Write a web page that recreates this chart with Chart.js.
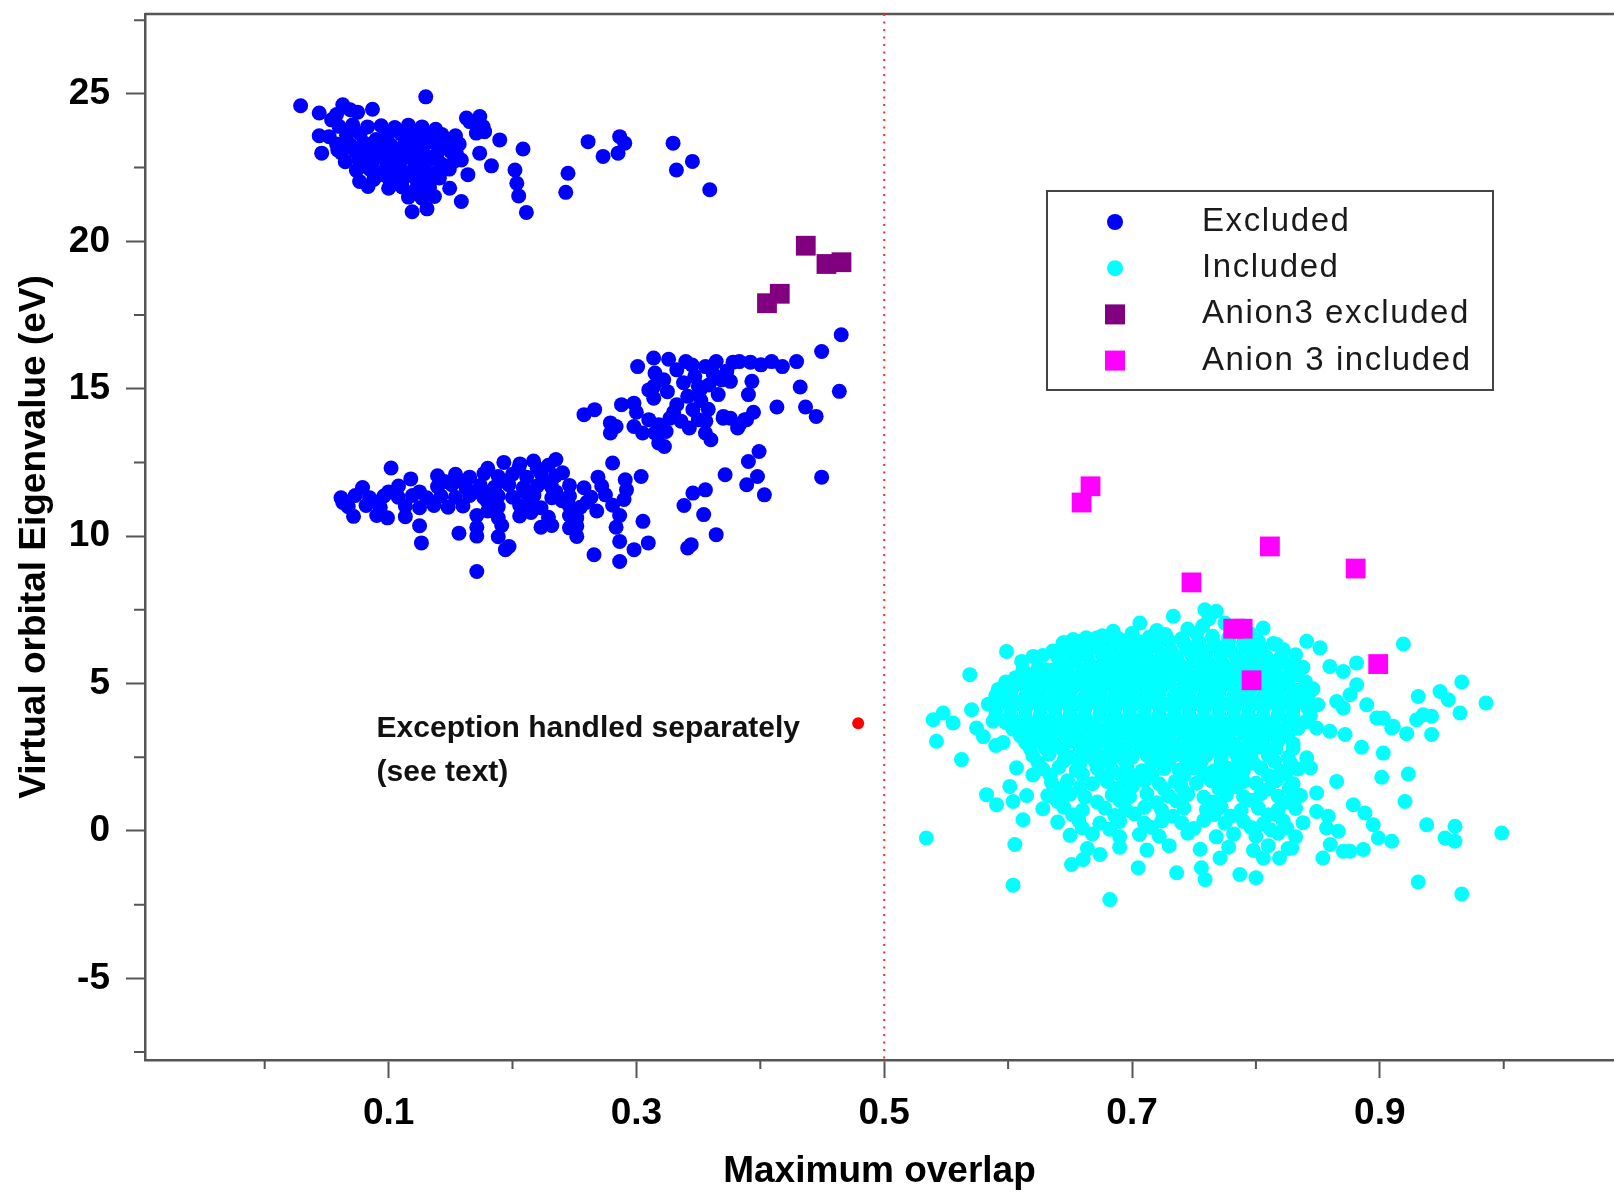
<!DOCTYPE html>
<html>
<head>
<meta charset="utf-8">
<style>
  html, body { margin: 0; padding: 0; background: #fff; overflow: hidden; }
  canvas { display: block; }
</style>
</head>
<body>
<canvas id="myChart" width="1614" height="1195"></canvas>
<script src="https://cdn.jsdelivr.net/npm/chart.js@4.4.1/dist/chart.umd.min.js"></script>
<script>
// values: [maximum overlap, eigenvalue in eV]
var excluded = [
  [0.029,24.6],[0.130,24.9],[0.087,24.48],[0.044,24.35],[0.054,24.12],[0.063,24.63],[0.069,24.46],[0.058,24.3],[0.075,24.38],
  [0.044,23.58],[0.052,23.55],[0.046,22.99],[0.059,23.1],
  [0.060,23.9],[0.071,23.95],[0.083,23.88],[0.094,23.92],[0.105,23.86],[0.116,23.94],[0.127,23.88],[0.138,23.8],
  [0.1654,24.06],[0.1762,23.89],[0.1708,23.67],[0.1775,23.72],[0.1628,24.18],[0.1736,24.23],
  [0.066,23.6],[0.077,23.65],[0.099,23.58],[0.110,23.64],[0.121,23.6],[0.132,23.55],[0.143,23.62],[0.154,23.58],
  [0.058,23.3],[0.069,23.28],[0.080,23.34],[0.091,23.3],[0.102,23.26],[0.113,23.32],[0.124,23.3],[0.135,23.36],[0.146,23.28],[0.157,23.3],
  [0.062,23.0],[0.073,23.05],[0.084,22.98],[0.095,23.02],[0.106,22.96],[0.117,23.04],[0.128,23.0],[0.139,22.95],[0.150,23.05],
  [0.065,22.7],[0.076,22.74],[0.087,22.68],[0.098,22.72],[0.109,22.66],[0.120,22.74],[0.131,22.7],[0.142,22.64],[0.153,22.72],
  [0.074,22.4],[0.085,22.44],[0.096,22.38],[0.107,22.42],[0.118,22.36],[0.129,22.44],[0.140,22.38],[0.149,22.45],
  [0.088,22.1],[0.100,22.14],[0.111,22.06],[0.122,22.12],[0.133,22.08],[0.141,22.15],
  [0.100,21.8],[0.111,21.84],[0.122,21.76],[0.133,21.82],
  [0.116,21.5],[0.127,21.46],[0.137,21.52],[0.119,21.0],[0.131,21.1],
  [0.090,23.45],[0.115,23.45],[0.137,23.45],[0.080,23.15],[0.100,23.15],[0.120,23.15],[0.142,23.15],[0.090,22.85],
  [0.112,22.85],[0.135,22.85],[0.080,22.55],[0.102,22.55],[0.125,22.55],[0.145,22.55],[0.092,22.25],[0.115,22.25],
  [0.135,22.25],[0.105,21.95],[0.128,21.95],
  [0.1587,21.35],[0.1493,21.80],[0.164,22.26],[0.183,22.56],[0.1735,22.99],[0.1897,23.44],[0.2085,23.13],[0.202,22.42],
  [0.2035,21.97],[0.205,21.54],[0.2112,20.98],[0.2448,22.31],[0.243,21.66],[0.261,23.38],[0.2865,23.55],[0.2906,23.33],
  [0.2852,22.99],[0.2731,22.88],[0.3296,23.33],[0.3323,22.42],[0.3452,22.71],[0.3592,21.75],[0.0766,22.03],[0.0834,21.86],
  [0.149,23.44],[0.1547,22.99],[0.1587,22.76],
  [0.193,12.5],[0.206,12.45],[0.217,12.55],[0.229,12.4],[0.235,12.6],
  [0.1395,12.05],[0.154,12.1],[0.1654,12.0],[0.177,12.12],[0.1885,12.02],[0.20,12.1],[0.2115,12.0],[0.223,12.12],[0.2346,12.04],[0.2404,12.15],[0.269,12.0],
  [0.079,11.65],[0.108,11.7],[0.1395,11.68],[0.151,11.74],[0.1625,11.64],[0.174,11.72],[0.1856,11.66],[0.197,11.74],[0.2087,11.64],[0.22,11.7],[0.2317,11.66],[0.246,11.72],[0.2577,11.64],[0.272,11.7],
  [0.0616,11.3],[0.0731,11.38],[0.0847,11.3],[0.0962,11.36],[0.1078,11.32],[0.1193,11.38],[0.1308,11.3],[0.1423,11.36],[0.1539,11.32],[0.1654,11.38],[0.177,11.3],[0.1885,11.36],[0.20,11.32],[0.2173,11.38],[0.2317,11.3],[0.246,11.36],[0.2634,11.32],[0.275,11.4],
  [0.0674,11.0],[0.0818,11.04],[0.0933,10.98],[0.1135,11.02],[0.125,10.96],[0.1366,11.04],[0.148,10.98],[0.16,11.02],[0.1885,11.0],[0.2058,11.04],[0.223,10.96],[0.246,11.02],[0.2548,10.98],[0.2808,11.05],
  [0.0717,10.67],[0.0904,10.7],[0.0991,10.62],[0.1135,10.66],[0.1712,10.7],[0.1885,10.62],[0.2058,10.68],[0.229,10.64],[0.246,10.7],[0.2519,10.62],[0.2865,10.7],
  [0.125,10.35],[0.1712,10.3],[0.1913,10.36],[0.223,10.3],[0.2317,10.36],[0.246,10.28],[0.2519,10.34],[0.2836,10.3],[0.3053,10.5],
  [0.1568,10.1],[0.1712,10.0],[0.1885,9.98],[0.2519,9.99],
  [0.145,11.85],[0.16,11.85],[0.17,11.5],[0.182,11.5],[0.195,11.85],[0.21,11.5],[0.225,11.85],[0.235,11.5],[0.24,11.2],
  [0.215,11.2],[0.18,11.15],[0.125,11.5],[0.10,11.5],[0.09,11.15],[0.205,12.3],[0.22,12.3],[0.18,12.3],[0.26,11.15],
  [0.268,10.85],[0.215,10.8],[0.18,10.85],
  [0.1265,9.77],[0.1943,9.54],[0.1972,9.65],[0.1712,8.80],[0.2658,9.37],[0.2865,9.82],[0.2865,9.14],[0.3096,9.77],[0.2981,9.54],
  [0.2808,12.48],[0.3038,12.02],[0.291,11.91],[0.292,11.57],[0.290,11.24],[0.063,11.14],[0.102,12.31],[0.1179,11.94],
  [0.3384,11.04],[0.3543,10.73],[0.3644,10.05],[0.3414,9.60],[0.3442,9.71],[0.3557,11.57],[0.3456,11.46],[0.3716,12.08],
  [0.399,12.87],[0.3904,12.53],[0.3977,12.02],[0.389,11.74],[0.4033,11.40],[0.4495,12.0],
  [0.4653,16.83],[0.4495,16.26],[0.4638,14.91],[0.4322,15.06],[0.4293,15.92],[0.4178,15.75],[0.4091,15.92],[0.4005,15.81],
  [0.3831,15.92],[0.4134,14.38],[0.4365,14.38],[0.4451,14.06],[0.3932,15.25],[0.3904,14.80],[0.370,14.00],[0.3875,13.95],[0.3817,13.67],
  [0.2577,14.12],[0.2663,14.29],[0.301,15.75],[0.3139,16.04],[0.315,15.53],[0.314,15.08],[0.31,14.96],[0.314,14.68],
  [0.288,14.46],[0.298,14.51],[0.279,13.84],[0.2836,13.72],[0.279,13.50],[0.298,13.72],[0.31,13.95],[0.318,13.78],
  [0.324,13.55],[0.315,13.50],[0.318,13.16],[0.3226,13.04],
  [0.3326,15.64],[0.3399,15.92],[0.3471,15.42],[0.3557,15.75],[0.3644,15.92],[0.35,15.08],[0.3414,14.74],[0.3326,14.46],
  [0.3456,14.29],[0.35,13.95],[0.3427,13.67],[0.3557,13.50],[0.3601,13.27],[0.3514,14.96],[0.3586,15.13],
  [0.3687,15.30],[0.3759,15.25],[0.3702,14.06],[0.3759,14.00],[0.3831,13.78],[0.3889,13.95],
  [0.325,14.9],[0.330,14.2],[0.338,15.2],[0.327,14.0],[0.336,13.9],[0.345,15.8],[0.352,14.6],[0.358,14.3],[0.362,15.5],
  [0.366,14.8],[0.300,14.2],[0.305,13.5],[0.322,15.3],[0.356,13.9],[0.326,16.0],[0.378,15.9],[0.392,15.9],[0.373,15.6],[0.3945,14.2]
];

var included = [
  [0.534,-0.24],[0.604,-1.84],[0.6054,-0.46],[0.6821,-2.33],[0.6512,-1.14],[0.6606,-0.97],[0.6741,-0.80],[0.705,-1.25],
  [0.736,-1.42],[0.756,-1.25],[0.759,-1.65],[0.612,0.38],[0.5826,1.23],[0.5907,0.89],[0.604,1.00],[0.6014,1.51],
  [0.6068,2.14],[0.5624,2.42],[0.5422,3.04],[0.5395,3.77],[0.5476,4.00],[0.5556,3.66],[0.5691,5.30],[0.5705,4.11],
  [0.5987,6.09],[0.6109,5.75],[0.6202,5.92],[0.631,5.47],[0.6014,4.62],[0.5745,3.49],[0.5879,3.72],[0.6444,6.38],
  [0.6525,6.49],[0.6714,6.54],[0.6848,6.77],[0.7063,7.05],[0.7333,7.28],[0.7588,7.50],[0.6795,5.70],
  [0.62,1.9],[0.615,1.2],[0.59,2.9],[0.58,3.2],[0.596,3.0],
  [0.762,7.2],[0.775,7.05],[0.79,6.95],[0.768,7.45],[0.72,6.8],[0.745,6.85],[0.757,6.95],[0.782,6.75],[0.795,6.7],
  [0.663,6.55],[0.676,6.62],[0.69,6.5],[0.70,6.7],[0.714,6.58],[0.727,6.66],[0.74,6.52],[0.752,6.7],[0.765,6.6],[0.778,6.55],[0.79,6.62],[0.80,6.45],
  [0.646,6.38],[0.658,6.42],[0.67,6.36],[0.682,6.44],[0.694,6.38],[0.706,6.42],[0.718,6.36],[0.73,6.44],[0.742,6.38],[0.754,6.42],[0.766,6.36],[0.778,6.44],[0.79,6.38],[0.802,6.42],[0.814,6.36],
  [0.636,6.1],[0.648,6.2],[0.66,6.12],[0.672,6.22],[0.684,6.1],[0.696,6.2],[0.708,6.15],[0.72,6.25],[0.732,6.1],[0.744,6.2],[0.756,6.15],[0.768,6.25],[0.78,6.1],[0.792,6.2],[0.804,6.12],[0.822,6.15],
  [0.628,5.95],[0.64,5.9],[0.652,5.98],[0.664,5.92],[0.676,5.98],[0.688,5.9],[0.70,5.96],[0.712,5.92],[0.724,5.98],[0.736,5.9],[0.748,5.96],[0.76,5.92],[0.772,5.98],[0.784,5.9],[0.796,5.96],[0.808,5.92],[0.82,5.9],[0.832,5.98],
  [0.642,5.7],[0.654,5.78],[0.666,5.65],[0.69,5.75],[0.702,5.68],[0.714,5.78],[0.726,5.7],[0.738,5.66],[0.75,5.76],[0.762,5.7],[0.774,5.64],[0.786,5.74],[0.798,5.7],[0.81,5.8],[0.826,5.66],[0.838,5.55],
  [0.612,5.48],[0.624,5.52],[0.636,5.46],[0.648,5.52],[0.66,5.46],[0.672,5.54],[0.684,5.46],[0.696,5.52],[0.708,5.46],[0.72,5.54],[0.732,5.48],[0.744,5.52],[0.756,5.46],[0.768,5.54],[0.78,5.48],[0.792,5.52],[0.804,5.46],[0.816,5.54],[0.828,5.48],
  [0.606,5.2],[0.618,5.3],[0.63,5.22],[0.642,5.3],[0.654,5.2],[0.666,5.28],[0.678,5.22],[0.69,5.3],[0.702,5.2],[0.714,5.28],[0.726,5.22],[0.738,5.3],[0.75,5.2],[0.762,5.28],[0.774,5.22],[0.786,5.3],[0.798,5.2],[0.81,5.28],[0.822,5.2],[0.834,5.3],
  [0.598,5.05],[0.61,5.0],[0.622,5.08],[0.634,5.02],[0.646,5.08],[0.658,5.0],[0.67,5.06],[0.682,5.02],[0.694,5.08],[0.706,5.0],[0.718,5.06],[0.73,5.02],[0.742,5.08],[0.754,5.0],[0.766,5.06],[0.778,5.02],[0.79,5.08],[0.802,5.0],[0.814,5.06],[0.826,5.02],[0.84,5.06],
  [0.592,4.8],[0.604,4.88],[0.616,4.76],[0.628,4.85],[0.64,4.78],[0.652,4.86],[0.664,4.8],[0.676,4.88],[0.688,4.76],[0.70,4.84],[0.712,4.8],[0.724,4.88],[0.736,4.76],[0.748,4.84],[0.76,4.8],[0.772,4.88],[0.784,4.76],[0.796,4.84],[0.808,4.8],[0.82,4.86],[0.832,4.78],[0.846,4.82],
  [0.59,4.58],[0.602,4.62],[0.614,4.56],[0.626,4.64],[0.638,4.58],[0.65,4.62],[0.662,4.56],[0.674,4.64],[0.686,4.58],[0.698,4.62],[0.71,4.56],[0.722,4.64],[0.734,4.58],[0.746,4.62],[0.758,4.56],[0.77,4.64],[0.782,4.58],[0.794,4.62],[0.806,4.56],[0.818,4.64],[0.83,4.58],[0.842,4.62],
  [0.584,4.3],[0.596,4.4],[0.608,4.32],[0.62,4.38],[0.632,4.3],[0.644,4.4],[0.656,4.32],[0.668,4.38],[0.68,4.3],[0.692,4.4],[0.704,4.32],[0.716,4.38],[0.728,4.3],[0.74,4.4],[0.752,4.32],[0.764,4.38],[0.776,4.3],[0.788,4.4],[0.80,4.32],[0.812,4.38],[0.824,4.3],[0.836,4.4],[0.85,4.28],
  [0.59,4.12],[0.602,4.18],[0.614,4.14],[0.626,4.2],[0.638,4.12],[0.65,4.18],[0.662,4.14],[0.674,4.2],[0.686,4.12],[0.698,4.18],[0.71,4.14],[0.722,4.2],[0.734,4.12],[0.746,4.18],[0.758,4.14],[0.77,4.2],[0.782,4.12],[0.794,4.18],[0.806,4.14],[0.818,4.2],[0.83,4.12],[0.842,4.16],
  [0.59,3.9],[0.602,3.96],[0.614,3.86],[0.626,3.94],[0.638,3.88],[0.65,3.96],[0.662,3.86],[0.674,3.94],[0.686,3.88],[0.698,3.96],[0.71,3.86],[0.722,3.94],[0.734,3.88],[0.746,3.96],[0.758,3.86],[0.77,3.94],[0.782,3.88],[0.794,3.96],[0.806,3.86],[0.818,3.94],[0.83,3.88],[0.844,3.92],
  [0.598,3.68],[0.61,3.72],[0.622,3.66],[0.634,3.74],[0.646,3.68],[0.658,3.72],[0.67,3.66],[0.682,3.74],[0.694,3.68],[0.706,3.72],[0.718,3.66],[0.73,3.74],[0.742,3.68],[0.754,3.72],[0.766,3.66],[0.778,3.74],[0.79,3.68],[0.802,3.72],[0.814,3.66],[0.826,3.74],[0.84,3.7],
  [0.604,3.45],[0.616,3.52],[0.628,3.42],[0.64,3.5],[0.652,3.44],[0.664,3.52],[0.676,3.42],[0.688,3.5],[0.70,3.44],[0.712,3.52],[0.724,3.42],[0.736,3.5],[0.748,3.44],[0.76,3.52],[0.772,3.42],[0.784,3.5],[0.796,3.44],[0.808,3.52],[0.82,3.42],[0.834,3.48],
  [0.61,3.22],[0.622,3.28],[0.634,3.24],[0.646,3.3],[0.658,3.22],[0.67,3.28],[0.682,3.24],[0.694,3.3],[0.706,3.22],[0.718,3.28],[0.73,3.24],[0.742,3.3],[0.754,3.22],[0.766,3.28],[0.778,3.24],[0.79,3.3],[0.802,3.22],[0.814,3.28],[0.826,3.24],
  [0.614,3.0],[0.626,3.06],[0.638,2.96],[0.65,3.04],[0.662,2.98],[0.674,3.06],[0.686,2.96],[0.698,3.04],[0.71,2.98],[0.722,3.06],[0.734,2.96],[0.746,3.04],[0.758,2.98],[0.77,3.06],[0.782,2.96],[0.794,3.04],[0.806,2.98],[0.818,3.06],[0.83,2.96],
  [0.618,2.78],[0.63,2.82],[0.644,2.76],[0.658,2.84],[0.67,2.78],[0.682,2.82],[0.694,2.76],[0.706,2.84],[0.718,2.78],[0.73,2.82],[0.742,2.76],[0.754,2.84],[0.766,2.78],[0.778,2.82],[0.79,2.76],[0.802,2.84],[0.816,2.78],[0.83,2.8],
  [0.62,2.55],[0.633,2.6],[0.652,2.5],[0.664,2.58],[0.676,2.52],[0.688,2.6],[0.70,2.5],[0.712,2.58],[0.724,2.52],[0.736,2.6],[0.748,2.5],[0.76,2.58],[0.772,2.52],[0.784,2.6],[0.796,2.5],[0.81,2.56],[0.826,2.5],
  [0.624,2.32],[0.645,2.38],[0.658,2.3],[0.67,2.36],[0.682,2.32],[0.694,2.4],[0.716,2.32],[0.73,2.38],[0.744,2.3],[0.756,2.36],[0.772,2.32],[0.786,2.4],[0.798,2.3],[0.815,2.36],[0.828,2.3],
  [0.628,2.1],[0.641,2.16],[0.655,2.05],[0.672,2.12],[0.684,2.06],[0.696,2.14],[0.708,2.04],[0.726,2.12],[0.738,2.06],[0.75,2.14],[0.766,2.04],[0.778,2.12],[0.79,2.06],[0.804,2.14],[0.82,2.04],[0.834,2.1],
  [0.634,1.88],[0.66,1.92],[0.676,1.86],[0.69,1.94],[0.702,1.86],[0.716,1.92],[0.742,1.88],[0.758,1.94],[0.772,1.86],[0.784,1.9],[0.81,1.88],[0.824,1.94],
  [0.635,1.65],[0.648,1.7],[0.668,1.6],[0.68,1.68],[0.694,1.62],[0.71,1.7],[0.722,1.6],[0.735,1.68],[0.752,1.62],[0.764,1.7],[0.778,1.6],[0.79,1.68],[0.80,1.62],[0.816,1.7],[0.83,1.6],
  [0.642,1.42],[0.658,1.48],[0.688,1.44],[0.70,1.5],[0.726,1.42],[0.74,1.48],[0.77,1.44],[0.784,1.5],[0.81,1.42],
  [0.632,1.2],[0.65,1.25],[0.662,1.15],[0.684,1.22],[0.698,1.16],[0.712,1.26],[0.73,1.18],[0.745,1.24],[0.758,1.14],[0.776,1.22],[0.79,1.16],[0.804,1.26],[0.818,1.18],[0.836,1.2],
  [0.64,1.0],[0.672,0.98],[0.69,1.04],[0.72,0.96],[0.736,1.02],[0.766,0.98],[0.796,1.04],[0.826,0.98],
  [0.628,0.75],[0.645,0.8],[0.66,0.7],[0.678,0.78],[0.695,0.72],[0.71,0.8],[0.724,0.7],[0.742,0.78],[0.76,0.72],[0.772,0.8],[0.788,0.7],[0.802,0.78],[0.818,0.72],[0.832,0.76],
  [0.652,0.55],[0.686,0.52],[0.702,0.58],[0.733,0.5],[0.766,0.56],[0.78,0.5],[0.81,0.55],
  [0.64,0.3],[0.657,0.35],[0.674,0.26],[0.69,0.32],[0.71,0.26],[0.724,0.34],[0.74,0.28],[0.758,0.36],[0.775,0.26],[0.79,0.32],[0.806,0.24],[0.822,0.34],[0.838,0.28],
  [0.66,0.1],[0.682,0.06],[0.716,0.12],[0.75,0.08],[0.796,0.12],[0.812,0.04],
  [0.65,-0.15],[0.668,-0.1],[0.69,-0.2],[0.706,-0.12],[0.722,-0.18],[0.745,-0.08],[0.768,-0.2],[0.782,-0.1],[0.80,-0.18],[0.818,-0.08],[0.832,-0.2],
  [0.664,-0.6],[0.69,-0.55],[0.712,-0.65],[0.73,-0.5],[0.755,-0.62],[0.778,-0.55],[0.798,-0.66],[0.81,-0.5],[0.826,-0.6],
  [0.787,-1.48],[0.80,-1.59],[0.806,-0.92],[0.819,-0.92],[0.829,-0.58],[0.825,0.10],[0.817,0.55],[0.771,-0.92],[0.849,0.66],
  [0.857,0.10],[0.860,-0.46],[0.854,-0.92],[0.8705,-0.69],[0.827,1.46],[0.833,1.23],[0.844,2.14],[0.841,2.48],[0.8705,4.17],
  [0.876,4.62],[0.8652,4.39],
  [0.919,6.34],[0.9661,5.05],[0.9857,4.34],[0.931,4.56],[0.9486,4.73],[0.9553,4.45],[0.9647,4.00],[0.9297,3.77],[0.935,3.94],
  [0.9418,3.89],[0.9418,3.27],[0.9217,3.30],[0.9109,3.55],[0.9028,3.83],[0.8853,2.84],[0.9028,2.64],[0.923,1.93],[0.9015,1.82],
  [0.9203,1.00],[0.9378,0.21],[0.9607,0.16],[0.9526,-0.24],[0.9607,-0.35],[0.9984,-0.07],[0.931,-1.73],[0.9661,-2.14],
  [0.8652,1.68],[0.8786,0.89],[0.888,0.61],[0.8947,0.21],[0.8988,-0.24],[0.9096,-0.35],[0.8867,-0.63],[0.8759,-0.69],
  [0.8665,-0.01],[0.8584,0.50],[0.849,1.29],[0.8597,5.58],[0.8705,5.41],[0.8813,5.70],[0.841,6.43],[0.8517,6.21],
  [0.8059,6.88],[0.8167,6.32],[0.8275,5.64],[0.8813,4.96],[0.8894,4.28],[0.8975,3.83],[0.9096,3.49],[0.849,3.49],
  [0.8597,3.38],[0.8719,3.27]
];

var anion3Excluded = [[0.4367,19.85],[0.4534,19.23],[0.4655,19.29],[0.4157,18.22],[0.4054,17.90]];
var anion3Included = [[0.6665,11.69],[0.6593,11.14],[0.8113,9.65],[0.8805,8.90],[0.748,8.43],[0.7817,6.86],[0.7893,6.86],[0.7965,5.11],[0.8987,5.66]];
var exceptionPoint = [[0.479,3.65]];

var xMajorTicks = [0.1, 0.3, 0.5, 0.7, 0.9];
var xMinorTicks = [0, 0.2, 0.4, 0.6, 0.8, 1.0];
var yMajorTicks = [-5, 0, 5, 10, 15, 20, 25];
var yMinorTicks = [-7.5, -2.5, 2.5, 7.5, 12.5, 17.5, 22.5, 27.5];
var cutoff = 0.5;
var noteLines = ['Exception handled separately', '(see text)'];
var legendOrder = ['Excluded', 'Included', 'Anion3 excluded', 'Anion 3 included'];

var fontFamily = "'Liberation Sans', Arial, sans-serif";

function pts(list) {
  return list.map(function (p) { return {x: p[0], y: p[1]}; });
}

// frame top, minor ticks, cut-off line, note and the boxed legend
var decor = {
  id: 'decor',
  beforeDatasetsDraw: function (chart) {
    var ctx = chart.ctx, a = chart.chartArea;
    var xs = chart.scales.x, ys = chart.scales.y;
    ctx.save();
    ctx.strokeStyle = '#555';
    ctx.lineWidth = 2.5;
    ctx.beginPath();
    ctx.moveTo(a.left, a.top);
    ctx.lineTo(a.right, a.top);
    ctx.stroke();

    ctx.lineWidth = 2;
    ctx.beginPath();
    xMinorTicks.forEach(function (v) {
      var px = xs.getPixelForValue(v);
      ctx.moveTo(px, a.bottom);
      ctx.lineTo(px, a.bottom + 9);
    });
    yMinorTicks.forEach(function (v) {
      var py = ys.getPixelForValue(v);
      ctx.moveTo(a.left - 11, py);
      ctx.lineTo(a.left, py);
    });
    ctx.stroke();

    var cx = xs.getPixelForValue(cutoff);
    ctx.strokeStyle = '#ff2a2a';
    ctx.lineWidth = 2;
    ctx.setLineDash([2, 5.5]);
    ctx.beginPath();
    ctx.moveTo(cx, a.top);
    ctx.lineTo(cx, a.bottom);
    ctx.stroke();
    ctx.setLineDash([]);

    ctx.fillStyle = '#111';
    ctx.font = 'bold 30px ' + fontFamily;
    ctx.textAlign = 'left';
    ctx.textBaseline = 'alphabetic';
    ctx.fillText(noteLines[0], xs.getPixelForValue(0.0903), ys.getPixelForValue(3.2));
    ctx.fillText(noteLines[1], xs.getPixelForValue(0.0903), ys.getPixelForValue(1.7));
    ctx.restore();
  },
  afterDraw: function (chart) {
    var ctx = chart.ctx;
    var bx = 1047, by = 191, bw = 446, bh = 199;
    ctx.save();
    ctx.fillStyle = '#fff';
    ctx.fillRect(bx, by, bw, bh);
    ctx.strokeStyle = '#444';
    ctx.lineWidth = 2;
    ctx.strokeRect(bx, by, bw, bh);
    ctx.font = '33px ' + fontFamily;
    ctx.letterSpacing = '1.6px';
    ctx.textBaseline = 'middle';
    ctx.textAlign = 'left';
    legendOrder.forEach(function (name, i) {
      var ds = chart.data.datasets.filter(function (d) { return d.label === name; })[0];
      var my = by + 31 + i * 46.2;
      var mx = bx + 68;
      ctx.fillStyle = ds.backgroundColor;
      if (ds.pointStyle === 'rect') {
        ctx.fillRect(mx - 10, my - 10, 20, 20);
      } else {
        ctx.beginPath();
        ctx.arc(mx, my, 8, 0, Math.PI * 2);
        ctx.fill();
      }
      ctx.fillStyle = '#1a1a1a';
      ctx.fillText(name, bx + 155, my);
    });
    ctx.restore();
  }
};

var ctx = document.getElementById('myChart').getContext('2d');
var myChart = new Chart(ctx, {
  type: 'scatter',
  data: {
    datasets: [
      { label: 'Anion 3 included', data: pts(anion3Included), pointStyle: 'rect', pointRadius: 14,
        backgroundColor: '#ff00ff', borderWidth: 0 },
      { label: 'Anion3 excluded', data: pts(anion3Excluded), pointStyle: 'rect', pointRadius: 14,
        backgroundColor: '#800080', borderWidth: 0 },
      { label: 'Exception', data: pts(exceptionPoint), pointStyle: 'circle', pointRadius: 6,
        backgroundColor: '#ff0000', borderWidth: 0 },
      { label: 'Excluded', data: pts(excluded), pointStyle: 'circle', pointRadius: 7.5,
        backgroundColor: '#0000ff', borderWidth: 0 },
      { label: 'Included', data: pts(included), pointStyle: 'circle', pointRadius: 7.5,
        backgroundColor: '#00ffff', borderWidth: 0 }
    ]
  },
  options: {
    responsive: false,
    animation: false,
    devicePixelRatio: 1,
    events: [],
    layout: { autoPadding: false, padding: { top: 14, left: 0, right: 0, bottom: 0 } },
    plugins: {
      legend: { display: false },
      tooltip: { enabled: false }
    },
    scales: {
      x: {
        type: 'linear',
        min: -0.0966,
        max: 1.089,
        afterBuildTicks: function (s) {
          s.ticks = xMajorTicks.map(function (v) { return {value: v}; });
        },
        afterFit: function (s) {
          s.height = 135;
          s.paddingLeft = 0;
          s.paddingRight = 0;
        },
        ticks: {
          autoSkip: false,
          maxRotation: 0,
          padding: 14,
          color: '#000',
          font: { family: fontFamily, size: 37, weight: 'bold' },
          callback: function (v) { return v.toFixed(1); }
        },
        grid: { drawOnChartArea: false, tickLength: 18, tickColor: '#555', tickWidth: 2 },
        border: { display: true, color: '#555', width: 2.5 },
        title: {
          display: true,
          text: 'Maximum overlap',
          color: '#000',
          font: { family: fontFamily, size: 37, weight: 'bold' },
          padding: { top: 0, bottom: 1 }
        }
      },
      y: {
        type: 'linear',
        min: -7.77,
        max: 27.71,
        afterBuildTicks: function (s) {
          s.ticks = yMajorTicks.map(function (v) { return {value: v}; });
        },
        afterFit: function (s) {
          s.width = 145;
          s.paddingTop = 0;
          s.paddingBottom = 0;
        },
        ticks: {
          autoSkip: false,
          padding: 16,
          color: '#000',
          font: { family: fontFamily, size: 37, weight: 'bold' },
          callback: function (v) { return String(v); }
        },
        grid: { drawOnChartArea: false, tickLength: 19, tickColor: '#555', tickWidth: 2 },
        border: { display: true, color: '#555', width: 2.5 },
        title: {
          display: true,
          text: 'Virtual orbital Eigenvalue (eV)',
          color: '#000',
          font: { family: fontFamily, size: 37, weight: 'bold' },
          padding: { top: 13, bottom: 0 }
        }
      }
    }
  },
  plugins: [decor]
});
</script>
</body>
</html>
